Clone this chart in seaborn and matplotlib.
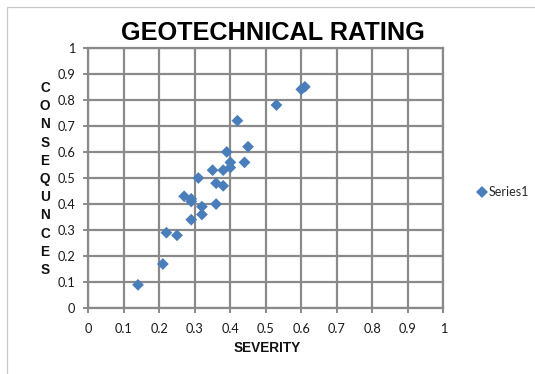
import matplotlib
matplotlib.use("Agg")
import matplotlib.pyplot as plt
import seaborn as sns
import pandas as pd
from matplotlib.patches import Rectangle

# Severity / consequences ratings
severity = [0.14, 0.21, 0.22, 0.25, 0.27, 0.29, 0.29, 0.29, 0.31, 0.32, 0.32,
            0.35, 0.36, 0.36, 0.38, 0.38, 0.39, 0.40, 0.40, 0.42, 0.44, 0.45,
            0.53, 0.60, 0.61]
consequences = [0.09, 0.17, 0.29, 0.28, 0.43, 0.42, 0.41, 0.34, 0.50, 0.39, 0.36,
                0.53, 0.48, 0.40, 0.53, 0.47, 0.60, 0.56, 0.54, 0.72, 0.56, 0.62,
                0.78, 0.84, 0.85]
series_name = "Series1"
ticks = [0, 0.1, 0.2, 0.3, 0.4, 0.5, 0.6, 0.7, 0.8, 0.9, 1]
tick_labels = ["0", "0.1", "0.2", "0.3", "0.4", "0.5", "0.6", "0.7", "0.8", "0.9", "1"]

df = pd.DataFrame({"SEVERITY": severity, "CONSEQUNCES": consequences,
                   "series": series_name})

sns.set_theme(style="white")
plt.rcParams["font.family"] = ["Liberation Sans", "DejaVu Sans"]

W, H = 535, 374
fig = plt.figure(figsize=(W / 100, H / 100), dpi=100)
ax = fig.add_axes([88.3 / W, 1 - 308.3 / H, (443.3 - 88.3) / W, (308.3 - 47.7) / H])

grid_col = "#8a8a8a"
blue = "#4a7ebb"

sns.scatterplot(data=df, x="SEVERITY", y="CONSEQUNCES", hue="series",
                palette=[blue], marker="D", s=36, linewidth=0, ax=ax, zorder=3,
                clip_on=False)

ax.set_xlim(0, 1)
ax.set_ylim(0, 1)
ax.set_xticks(ticks)
ax.set_yticks(ticks)
ax.set_xticklabels(tick_labels, family="Lato", fontsize=9.2, color="#1a1a1a")
ax.set_yticklabels(tick_labels, family="Lato", fontsize=9.2, color="#1a1a1a")
ax.tick_params(axis="both", which="major", direction="out", length=3.5, width=1.4,
               color=grid_col, bottom=True, left=True)
ax.tick_params(axis="x", pad=7)
ax.tick_params(axis="y", pad=6)

ax.grid(True, color=grid_col, linewidth=1.6)
ax.set_axisbelow(True)
for sp in ax.spines.values():
    sp.set_visible(True)
    sp.set_color(grid_col)
    sp.set_linewidth(1.6)

ax.set_xlabel("")
ax.set_ylabel("")

# Axis titles
fig.text(267 / W, 1 - 348 / H, "SEVERITY", ha="center", va="center",
         fontsize=9.8, fontweight="bold", color="#111111")
fig.text(45 / W, 1 - 179 / H, "\n".join("CONSEQUNCES"), ha="center", va="center",
         fontsize=9.8, fontweight="bold", color="#111111", linespacing=1.38)

# Chart title
fig.text(273 / W, 1 - 33 / H, "GEOTECHNICAL RATING", ha="center", va="center",
         fontsize=18.2, fontweight="bold", color="#000000")

# Legend to the right of the plot area
leg = ax.legend(loc="center left", bbox_to_anchor=(476 / W, 1 - 192 / H),
                bbox_transform=fig.transFigure, frameon=False,
                handletextpad=0.0, borderpad=0, borderaxespad=0,
                handlelength=1.0, prop={"family": "Lato", "size": 9})

# Chart area border
fig.patches.append(Rectangle((7 / W, -0.1), 1.2, 1 - 7 / H + 0.1,
                             transform=fig.transFigure, fill=False,
                             edgecolor="#c8c8c8", linewidth=0.9))

fig.savefig("out.png", dpi=100)
